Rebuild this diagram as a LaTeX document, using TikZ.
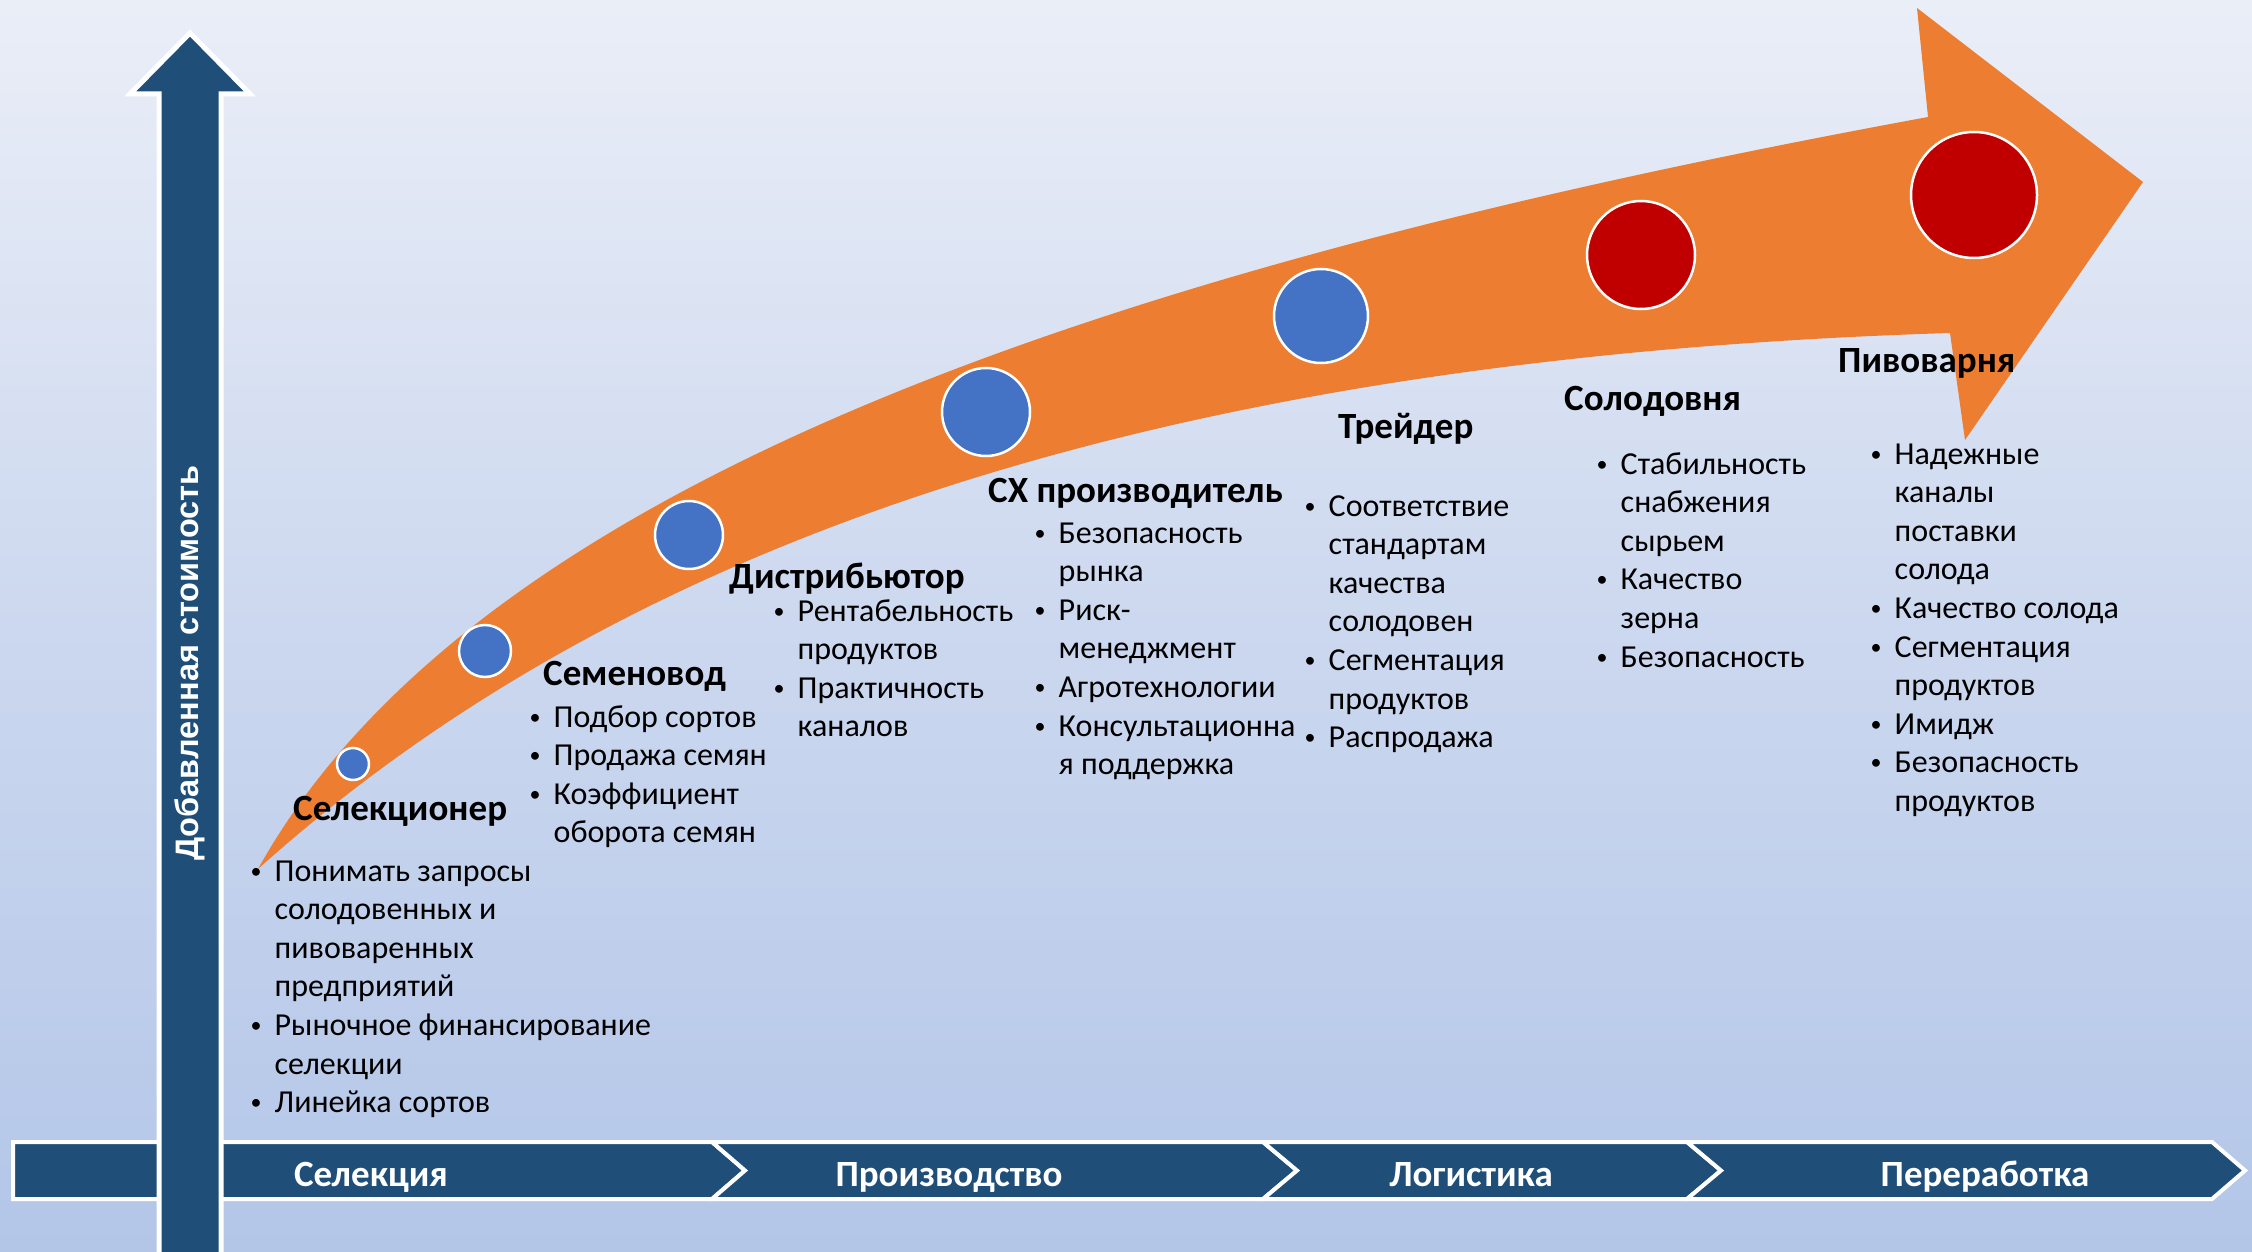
\documentclass[tikz,border=0pt]{standalone}
\usepackage{fontspec}
\setmainfont{Carlito}
\newfontfamily\axisfont{Liberation Sans}
\definecolor{navy}{HTML}{1F4E79}
\definecolor{arrorange}{HTML}{ED7D31}
\definecolor{dotblue}{HTML}{4472C4}
\definecolor{dotred}{HTML}{C00000}
\definecolor{bgtop}{HTML}{EAEEF7}
\definecolor{bgmid}{HTML}{CCD8EF}
\definecolor{bgbot}{HTML}{B3C6E8}
\newcommand{\bl}{\hspace*{1.8pt}\raisebox{3pt}{\fontsize{22}{22}\selectfont\textbullet}}
\newenvironment{blist}{\begin{tabular}[t]{@{}p{26pt}@{}l@{}}}{\end{tabular}}
\tikzset{
  body/.style={font=\fontsize{32}{38.6}\selectfont, anchor=base west, inner sep=0pt, text=black},
  head/.style={font=\fontsize{37}{42}\selectfont\bfseries, anchor=base west, inner sep=0pt, text=black},
  barlabel/.style={font=\fontsize{37}{42}\selectfont\bfseries, text=white, anchor=base, inner sep=0pt},
  seg/.style={fill=navy, draw=white, line width=4pt, line join=miter},
  dot/.style={circle, draw=white, line width=2.5pt, inner sep=0pt},
}
\begin{document}
\begin{tikzpicture}[x=1pt,y=-1pt]
\useasboundingbox (0,0) rectangle (2252,1252);
\shade[top color=bgtop, bottom color=bgbot, middle color=bgmid] (0,0) rectangle (2252,1252);

% bottom chevron bar
\draw[seg] (13,1142) -- (712,1142) -- (745,1170.5) -- (712,1199) -- (13,1199) -- cycle;
\draw[seg] (712,1142) -- (1263,1142) -- (1297,1170.5) -- (1263,1199) -- (712,1199) -- (745,1170.5) -- cycle;
\draw[seg] (1263,1142) -- (1687,1142) -- (1721,1170.5) -- (1687,1199) -- (1263,1199) -- (1297,1170.5) -- cycle;
\draw[seg] (1687,1142) -- (2212,1142) -- (2245,1170.5) -- (2212,1199) -- (1687,1199) -- (1721,1170.5) -- cycle;
\node[barlabel] (b1) at (371,1186) {Селекция};
\node[barlabel] (b2) at (949,1186) {Производство};
\node[barlabel] (b3) at (1471,1186) {Логистика};
\node[barlabel] (b4) at (1985,1186) {Переработка};

% vertical arrow
\draw[fill=navy, draw=white, line width=5pt, line join=miter]
  (159,1270) -- (159,94) -- (130,94) -- (190,33) -- (250,94) -- (221,94) -- (221,1270) -- cycle;
\node[rotate=90, font=\axisfont\bfseries\fontsize{32.5}{36}\selectfont, text=white, inner sep=0pt] (axis) at (190,663) {Добавленная стоимость};

% curved orange arrow
\fill[arrorange] (258,869) .. controls (480,470) and (1150,260) .. (1928,117)
  -- (1917,8) -- (2143,182) -- (1965,440) -- (1950,333)
  .. controls (1080,360) and (580,580) .. (258,869) -- cycle;

% circles
\node[dot, fill=dotblue, minimum size=32pt] (c1) at (353,764) {};
\node[dot, fill=dotblue, minimum size=52pt] (c2) at (485,651) {};
\node[dot, fill=dotblue, minimum size=68pt] (c3) at (689,535) {};
\node[dot, fill=dotblue, minimum size=88pt] (c4) at (986,412) {};
\node[dot, fill=dotblue, minimum size=94pt] (c5) at (1321,316) {};
\node[dot, fill=dotred, minimum size=108pt] (c6) at (1641,255) {};
\node[dot, fill=dotred, minimum size=126pt] (c7) at (1974,195) {};

% headings
\node[head] (h1) at (293,820) {Селекционер};
\node[head] (h2) at (543,685) {Семеновод};
\node[head] (h3) at (729,588) {Дистрибьютор};
\node[head] (h4) at (988,502) {СХ производитель};
\node[head] (h5) at (1338,438) {Трейдер};
\node[head] (h6) at (1564,410) {Солодовня};
\node[head] (h7) at (1838,372) {Пивоварня};

% lists
\node[body] (l1) at (248.5,881) {\begin{blist}
\bl & Понимать запросы\\ & солодовенных и\\ & пивоваренных\\ & предприятий\\
\bl & Рыночное финансирование\\ & селекции\\ \bl & Линейка сортов\end{blist}};
\node[body] (l2) at (527.5,727) {\begin{blist}
\bl & Подбор сортов\\ \bl & Продажа семян\\ \bl & Коэффициент\\ & оборота семян\end{blist}};
\node[body] (l3) at (771.5,621) {\begin{blist}
\bl & Рентабельность\\ & продуктов\\ \bl & Практичность\\ & каналов\end{blist}};
\node[body] (l4) at (1032.5,543) {\begin{blist}
\bl & Безопасность\\ & рынка\\ \bl & Риск-\\ & менеджмент\\ \bl & Агротехнологии\\
\bl & Консультационна\\ & я поддержка\end{blist}};
\node[body] (l5) at (1302.5,516) {\begin{blist}
\bl & Соответствие\\ & стандартам\\ & качества\\ & солодовен\\ \bl & Сегментация\\
& продуктов\\ \bl & Распродажа\end{blist}};
\node[body] (l6) at (1594.5,474) {\begin{blist}
\bl & Стабильность\\ & снабжения\\ & сырьем\\ \bl & Качество\\ & зерна\\ \bl & Безопасность\end{blist}};
\node[body] (l7) at (1868.5,464) {\begin{blist}
\bl & Надежные\\ & каналы\\ & поставки\\ & солода\\ \bl & Качество солода\\
\bl & Сегментация\\ & продуктов\\ \bl & Имидж\\ \bl & Безопасность\\ & продуктов\end{blist}};
\end{tikzpicture}
\end{document}
